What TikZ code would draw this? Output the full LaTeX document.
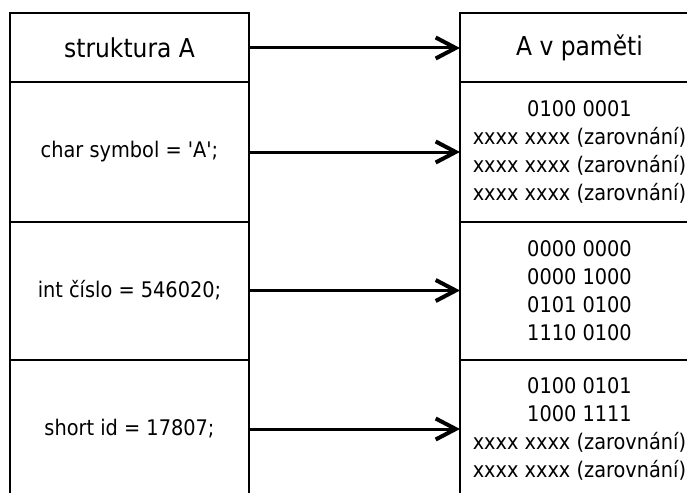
\documentclass[tikz,border=0pt]{standalone}
\usepackage{fontspec}
\setmainfont{DejaVu Sans Condensed}
\usetikzlibrary{arrows.meta}
\begin{document}
\begin{tikzpicture}[x=1pt,y=-1pt,
  cell/.style={draw, line width=2pt, minimum width=239pt, inner sep=0pt,
    outer sep=0pt, align=center, anchor=north west,
    font=\fontsize{21.5}{27.8}\selectfont},
  headcell/.style={cell, minimum height=69pt, font=\fontsize{26}{31}\selectfont},
  bodycell/.style={cell, minimum height=#1},
  link/.style={line width=3pt, -{Straight Barb[length=20pt,width=21pt,line width=4pt]}}
]
\useasboundingbox (0,0) rectangle (687,492);
\clip (0,0) rectangle (687,492);

% structure column
\node[headcell] (L0) at (10,13.5) {struktura A};
\node[bodycell=139pt] (L1) at (10,82.5) {char symbol = \textquotesingle A\textquotesingle;};
\node[bodycell=138pt] (L2) at (10,221.5) {int číslo = 546020;};
\node[bodycell=139pt] (L3) at (10,359.5) {short id = 17807;};

% memory column
\node[headcell] (R0) at (460,13.5) {A v paměti};
\node[bodycell=139pt] (R1) at (460,82.5) {0100 0001\\xxxx xxxx (zarovnání)\\xxxx xxxx (zarovnání)\\xxxx xxxx (zarovnání)};
\node[bodycell=138pt] (R2) at (460,221.5) {0000 0000\\0000 1000\\0101 0100\\1110 0100};
\node[bodycell=139pt] (R3) at (460,359.5) {0100 0101\\1000 1111\\xxxx xxxx (zarovnání)\\xxxx xxxx (zarovnání)};

% member to memory links
\foreach \i in {0,...,3}
  \draw[link] (L\i.east) -- (R\i.west);
\end{tikzpicture}
\end{document}
